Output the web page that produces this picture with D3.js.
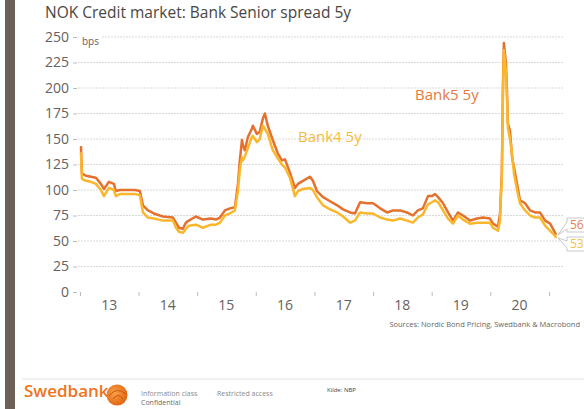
<!DOCTYPE html>
<html>
<head>
<meta charset="utf-8">
<script src="https://cdn.jsdelivr.net/npm/d3@7"></script>
<style>
  body { margin: 0; background: #fff; }
  text { font-family: "Open Sans", sans-serif; }
</style>
</head>
<body>
<div id="chart"></div>
<script>
// NOK Credit market: Bank Senior spread 5y

// dates of the readings
const dates = [
  "2013-01-07","2013-01-13","2013-02-07","2013-03-10","2013-04-10","2013-05-11","2013-05-30",
  "2013-06-30","2013-07-31","2013-08-12","2013-09-06","2013-10-26","2013-12-09","2014-01-09",
  "2014-01-28","2014-02-28","2014-04-06","2014-06-01","2014-08-03","2014-08-22","2014-09-09",
  "2014-10-04","2014-10-23","2014-11-10","2014-12-24","2015-02-06","2015-03-28","2015-04-28",
  "2015-05-23","2015-06-23","2015-07-24","2015-08-24","2015-09-12","2015-09-24","2015-10-07",
  "2015-10-13","2015-10-25","2015-11-13","2015-12-08","2015-12-14","2016-01-08","2016-01-26",
  "2016-02-14","2016-02-27","2016-03-16","2016-04-16","2016-05-17","2016-06-12","2016-07-01",
  "2016-08-01","2016-09-01","2016-09-20","2016-10-21","2016-12-04","2016-12-22","2017-01-16",
  "2017-02-23","2017-04-08","2017-05-22","2017-06-28","2017-08-10","2017-09-10","2017-10-12",
  "2017-11-24","2018-01-01","2018-02-14","2018-03-29","2018-05-06","2018-06-18","2018-07-31",
  "2018-09-06","2018-10-07","2018-11-07","2018-12-09","2019-01-03","2019-01-22","2019-02-10",
  "2019-03-13","2019-04-13","2019-05-14","2019-06-14","2019-07-15","2019-08-28","2019-10-11",
  "2019-11-17","2019-12-30","2020-01-18","2020-02-18","2020-03-02","2020-03-07","2020-03-13",
  "2020-03-20","2020-03-26","2020-04-08","2020-04-14","2020-04-20","2020-05-03","2020-05-16",
  "2020-05-28","2020-06-16","2020-07-04","2020-08-05","2020-09-05","2020-10-06","2020-11-06",
  "2020-12-08","2021-01-08","2021-02-08","2021-02-14"
];

// Bank5 5y spread (bps)
const bank5 = [
  143,116,114,113,112,106,101,
  108,106,99,100,100,100,99,
  85,80,77,74,73,68,63,
  62,68,70,74,71,72,71,
  73,80,82,83,106,129,149,
  144,139,152,160,163,155,157,
  170,175,163,149,136,129,130,
  117,102,106,109,113,109,99,
  93,89,85,81,78,77,88,
  87,87,82,78,80,80,78,
  75,80,82,94,94,96,93,
  87,78,70,78,75,70,72,
  73,72,67,64,77,95,115,
  200,244,224,198,165,158,132,
  122,106,90,87,80,78,78,
  70,67,58,56
];

// Bank4 5y spread (bps)
const bank4 = [
  137,111,109,108,106,100,94,
  102,100,94,96,96,96,95,
  78,73,72,70,70,63,59,
  58,62,65,66,63,66,66,
  68,75,77,80,99,120,132,
  129,133,141,152,153,147,150,
  163,160,155,139,131,125,122,
  112,94,99,101,102,100,93,
  85,81,78,74,68,70,78,
  77,77,73,71,70,72,70,
  68,73,76,86,88,90,88,
  80,72,67,75,71,67,68,
  68,68,63,60,70,93,110,
  195,237,215,190,161,150,135,
  116,100,87,80,75,73,73,
  65,60,55,53
];

const yTicks = [0, 25, 50, 75, 100, 125, 150, 175, 200, 225, 250];
const yearLabels = ["13", "14", "15", "16", "17", "18", "19", "20"];

const svgWidth = 584;
const svgHeight = 409;

const parse = d3.timeParse("%Y-%m-%d");
const rows = dates.map((d, i) => ({ date: parse(d), b5: bank5[i], b4: bank4[i] }));

const svg = d3.select("#chart")
  .append("svg")
  .attr("width", svgWidth)
  .attr("height", svgHeight);

// left brown band
svg.append("rect")
  .attr("x", 5).attr("y", 0)
  .attr("width", 10).attr("height", svgHeight)
  .attr("fill", "#6d6157");

// title
svg.append("text")
  .attr("x", 45).attr("y", 18)
  .attr("font-size", 15.5)
  .attr("fill", "#4a4644")
  .text("NOK Credit market: Bank Senior spread 5y");

// scales
const x = d3.scaleTime()
  .domain([new Date(2013, 0, 1), new Date(2021, 0, 1)])
  .range([80, 549]);

const y = d3.scaleLinear()
  .domain([0, 250])
  .range([292, 37]);

// grid lines
svg.append("g")
  .selectAll("line")
  .data(yTicks.filter(t => t > 0))
  .enter()
  .append("line")
  .attr("x1", 78).attr("x2", 563)
  .attr("y1", d => y(d)).attr("y2", d => y(d))
  .attr("stroke", "#d9d9d9")
  .attr("stroke-width", 1)
  .attr("stroke-dasharray", "2,1");

// y axis (ticks + labels)
const leftAxis = d3.axisLeft(y)
  .tickValues(yTicks)
  .tickSize(4)
  .tickPadding(4);

const yAxis = svg.append("g")
  .attr("transform", "translate(77,0)")
  .call(leftAxis);
yAxis.select(".domain").remove();
yAxis.selectAll("line").attr("stroke", "#bbb");
yAxis.selectAll("text")
  .attr("font-family", "Open Sans, sans-serif")
  .attr("font-size", 14)
  .attr("fill", "#66615e");

// bps label over the top grid line
svg.append("rect")
  .attr("x", 79).attr("y", 32)
  .attr("width", 23).attr("height", 14)
  .attr("fill", "#fff");
svg.append("text")
  .attr("x", 82).attr("y", 45)
  .attr("font-size", 10)
  .attr("fill", "#66615e")
  .text("bps");

// x axis: ticks at year boundaries, labels mid-year
const bottomAxis = d3.axisBottom(x)
  .ticks(d3.timeYear.every(1))
  .tickSize(4)
  .tickFormat("");
const xAxis = svg.append("g")
  .attr("transform", "translate(0,292)")
  .call(bottomAxis);
xAxis.select(".domain").remove();
xAxis.selectAll("line").attr("stroke", "#bbb");

svg.append("g")
  .selectAll("text")
  .data(yearLabels)
  .enter()
  .append("text")
  .attr("x", (d, i) => x(new Date(2013 + i, 6, 2)))
  .attr("y", 310)
  .attr("text-anchor", "middle")
  .attr("font-size", 14)
  .attr("fill", "#66615e")
  .text(d => d);

// lines
const line5 = d3.line().x(d => x(d.date)).y(d => y(d.b5));
const line4 = d3.line().x(d => x(d.date)).y(d => y(d.b4));

svg.append("path")
  .datum(rows)
  .attr("d", line5)
  .attr("fill", "none")
  .attr("stroke", "#e5712f")
  .attr("stroke-width", 2.5)
  .attr("stroke-linejoin", "round");

svg.append("path")
  .datum(rows)
  .attr("d", line4)
  .attr("fill", "none")
  .attr("stroke", "#fbb72c")
  .attr("stroke-width", 2.5)
  .attr("stroke-linejoin", "round");

// series labels
svg.append("text")
  .attr("x", 415).attr("y", 100)
  .attr("font-size", 15)
  .attr("fill", "#e5793f")
  .text("Bank5 5y");
svg.append("text")
  .attr("x", 298).attr("y", 142)
  .attr("font-size", 15)
  .attr("fill", "#f5bb3a")
  .text("Bank4 5y");

// end value callouts
const last = rows[rows.length - 1];
const callouts = [
  { v: last.b5, by: 218, color: "#e8834a" },
  { v: last.b4, by: 237, color: "#f4c24a" }
];
const cg = svg.append("g");
callouts.forEach(c => {
  const px = x(last.date) + 2;
  const py = y(c.v);
  const bx = 567, bw = 18, bh = 14;
  cg.append("path")
    .attr("d", `M${bx},${c.by + 4} L${px},${py} L${bx},${c.by + bh - 3} L${bx},${c.by + bh} L${bx + bw},${c.by + bh} L${bx + bw},${c.by} L${bx},${c.by} Z`)
    .attr("fill", "#fff")
    .attr("stroke", "#bbb")
    .attr("stroke-width", 0.8);
  cg.append("text")
    .attr("x", bx + 3).attr("y", c.by + 11)
    .attr("font-size", 12)
    .attr("fill", c.color)
    .text(c.v);
});

// sources
svg.append("text")
  .attr("x", 580).attr("y", 327)
  .attr("text-anchor", "end")
  .attr("font-size", 7.5)
  .attr("fill", "#666")
  .text("Sources: Nordic Bond Pricing, Swedbank & Macrobond");

// footer
svg.append("line")
  .attr("x1", 22).attr("x2", svgWidth)
  .attr("y1", 379).attr("y2", 379)
  .attr("stroke", "#e2e2e2");

svg.append("text")
  .attr("x", 24).attr("y", 397)
  .attr("font-size", 17)
  .attr("font-weight", 600)
  .attr("fill", "#ee7421")
  .text("Swedbank");

const grad = svg.append("defs").append("radialGradient")
  .attr("id", "logo").attr("cx", "40%").attr("cy", "40%").attr("r", "65%");
grad.append("stop").attr("offset", "0%").attr("stop-color", "#f9a24a");
grad.append("stop").attr("offset", "100%").attr("stop-color", "#e2620e");
svg.append("circle")
  .attr("cx", 117).attr("cy", 395).attr("r", 10.5)
  .attr("fill", "url(#logo)");
svg.append("path")
  .attr("d", "M109,396 Q117,386 126,394 M113,399 Q118,392 123,399")
  .attr("fill", "none")
  .attr("stroke", "#c9570c")
  .attr("stroke-width", 1);

const foot = [
  { t: "Information class", x: 141, y: 396, s: 7, c: "#8a8a8a" },
  { t: "Confidential", x: 141, y: 405, s: 7, c: "#6a6a6a" },
  { t: "Restricted access", x: 217, y: 396, s: 7, c: "#8a8a8a" },
  { t: "Kilde: NBP", x: 327, y: 392, s: 6, c: "#444" }
];
svg.append("g")
  .selectAll("text")
  .data(foot)
  .enter()
  .append("text")
  .attr("x", d => d.x).attr("y", d => d.y)
  .attr("font-size", d => d.s)
  .attr("fill", d => d.c)
  .text(d => d.t);
</script>
</body>
</html>
